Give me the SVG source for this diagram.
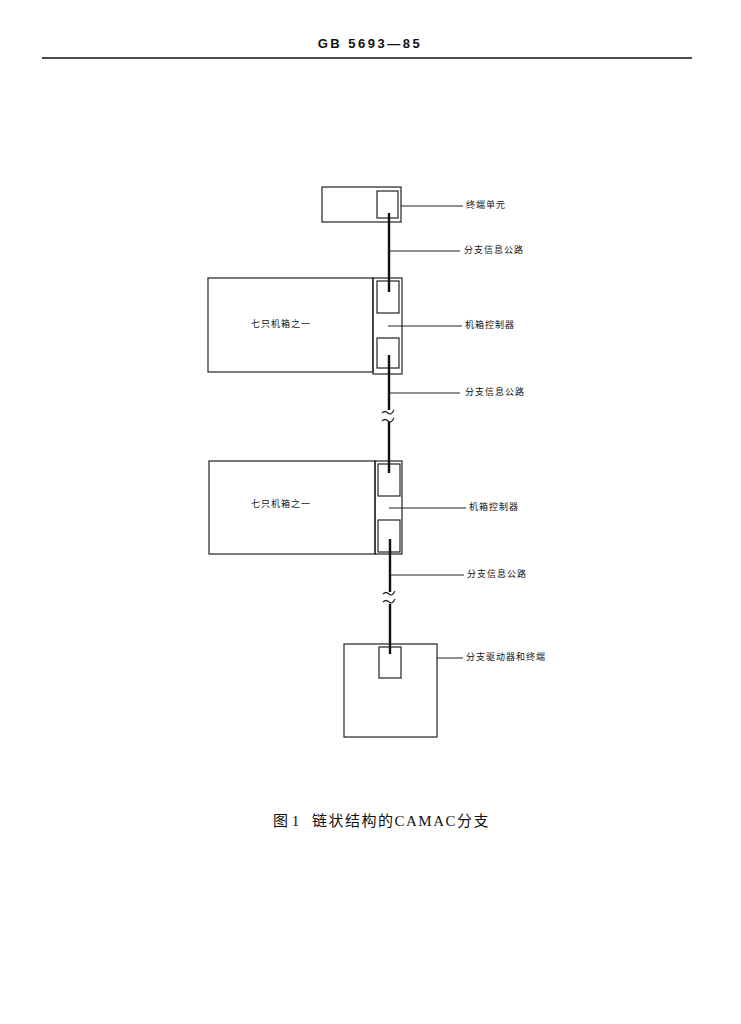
<svg xmlns="http://www.w3.org/2000/svg" width="741" height="1024" viewBox="0 0 741 1024">
<style>
.box{fill:none;stroke:#222;stroke-width:1.2}
.bus{fill:none;stroke:#111;stroke-width:2.4}
.ln{fill:none;stroke:#222;stroke-width:1}
.brk{fill:none;stroke:#222;stroke-width:1.2}
.lbl{font-family:"Noto Sans CJK SC","Noto Sans",sans-serif;font-size:9px;fill:#111;dominant-baseline:middle;letter-spacing:1px}
.cap{font-family:"Liberation Serif","Noto Sans CJK SC",serif;font-size:15px;fill:#111}
</style>
<rect width="741" height="1024" fill="#fff"/>
<g id="header">
<text x="370" y="48" text-anchor="middle" font-family="Liberation Sans, sans-serif" font-weight="bold" font-size="13" letter-spacing="2.5" fill="#111">GB 5693—85</text>
<line x1="42" y1="58" x2="692" y2="58" stroke="#111" stroke-width="1.6"/>
</g>
<g id="terminal">
<rect class="box" x="322" y="187" width="79" height="35"/>
<rect class="box" x="377" y="191" width="21" height="27"/>
</g>
<g id="crate1">
<rect class="box" x="208" y="278" width="165" height="94"/>
<rect class="box" x="373" y="278" width="29" height="96"/>
<rect class="box" x="377" y="281" width="22" height="32"/>
<rect class="box" x="377" y="338" width="22" height="30"/>
<text class="lbl" x="281" y="325" text-anchor="middle">七只机箱之一</text>
</g>
<g id="crate2">
<rect class="box" x="209" y="461" width="166" height="93"/>
<rect class="box" x="375" y="461" width="27" height="93"/>
<rect class="box" x="378" y="464" width="22" height="32"/>
<rect class="box" x="378" y="520" width="22" height="32"/>
<text class="lbl" x="281" y="505" text-anchor="middle">七只机箱之一</text>
</g>
<g id="driver">
<rect class="box" x="344" y="644" width="93" height="93"/>
<rect class="box" x="379" y="647" width="22" height="31"/>
</g>
<g id="connectors">
<line class="bus" x1="389" y1="213" x2="389" y2="292"/>
<line class="bus" x1="389" y1="355" x2="389" y2="410"/>
<line class="bus" x1="389" y1="422" x2="389" y2="473"/>
<line class="bus" x1="390" y1="539" x2="390" y2="592"/>
<line class="bus" x1="390" y1="604" x2="390" y2="654"/>
<path class="brk" d="M382 413 q3 -3 6 0 t6 -3"/>
<path class="brk" d="M382 421 q3 -3 6 0 t6 -3"/>
<path class="brk" d="M383 594 q3 -3 6 0 t6 -3"/>
<path class="brk" d="M383 602 q3 -3 6 0 t6 -3"/>
<line class="ln" x1="401" y1="206" x2="463" y2="206"/>
<line class="ln" x1="389" y1="251" x2="460" y2="251"/>
<line class="ln" x1="388" y1="326" x2="462" y2="326"/>
<line class="ln" x1="389" y1="393" x2="460" y2="393"/>
<line class="ln" x1="389" y1="508" x2="466" y2="508"/>
<line class="ln" x1="390" y1="575" x2="464" y2="575"/>
<line class="ln" x1="437" y1="658" x2="463" y2="658"/>
</g>
<g id="labels">
<text class="lbl" x="466" y="206">终端单元</text>
<text class="lbl" x="464" y="251">分支信息公路</text>
<text class="lbl" x="465" y="326">机箱控制器</text>
<text class="lbl" x="465" y="393">分支信息公路</text>
<text class="lbl" x="469" y="508">机箱控制器</text>
<text class="lbl" x="467" y="575">分支信息公路</text>
<text class="lbl" x="466" y="658">分支驱动器和终端</text>
</g>
<g id="caption">
<text class="cap" x="273" y="826">图 1</text>
<text class="cap" x="312" y="826" letter-spacing="1.5">链状结构的CAMAC分支</text>
</g>
</svg>
